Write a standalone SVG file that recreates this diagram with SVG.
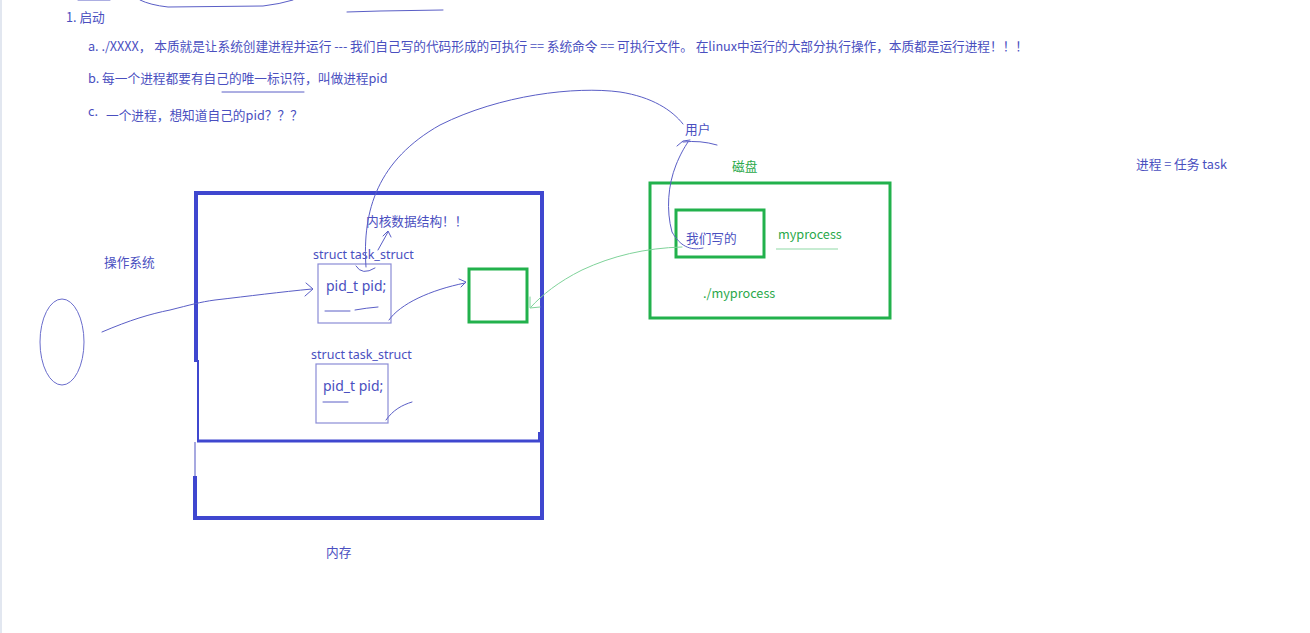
<svg xmlns="http://www.w3.org/2000/svg" width="1310" height="633" viewBox="0 0 1310 633">
<style>
  .t { font-family: "Noto Sans CJK SC", "Liberation Sans", sans-serif; fill: #4a4fbf; font-size: 12.7px; }
  .g { font-family: "Noto Sans CJK SC", "Liberation Sans", sans-serif; fill: #2aa84a; font-size: 12.7px; }
  .code { font-family: "Noto Sans", "Liberation Sans", sans-serif; fill: #4a4fbf; }
  .pen { fill: none; stroke: #5a5ec6; stroke-width: 1; stroke-linecap: round; stroke-linejoin: round; }
  .gpen { fill: none; stroke: #7fd39a; stroke-width: 1; stroke-linecap: round; }
  .mem { fill: none; stroke: #3f47cf; stroke-width: 4; }
  .grn { fill: none; stroke: #22b14c; stroke-width: 3; }
  .box { fill: none; stroke: #8a8cd6; stroke-width: 1.2; }
</style>
<rect width="1310" height="633" fill="#ffffff"/>
<line x1="1" y1="0" x2="1" y2="633" stroke="#e2e7f0" stroke-width="2"/>

<g id="notes">
  <text class="t" x="66" y="22">1. 启动</text>
  <text class="t" x="88" y="51" textLength="940" lengthAdjust="spacing">a. ./XXXX， 本质就是让系统创建进程并运行 --- 我们自己写的代码形成的可执行 == 系统命令 == 可执行文件。 在linux中运行的大部分执行操作，本质都是运行进程！！！</text>
  <text class="t" x="88" y="83">b. 每一个进程都要有自己的唯一标识符，叫做进程pid</text>
  <text class="t" x="88" y="116" font-size="11.5">c.</text>
  <text class="t" x="106" y="120">一个进程，想知道自己的pid？？？</text>
  <text class="t" x="1136" y="169">进程 = 任务 task</text>
</g>

<g id="memory">
  <path class="mem" d="M196,362 L196,193 L542,193 L542,518 L195,518 L195,476"/>
  <path d="M198,360 L198,440" stroke="#3f47cf" stroke-width="2" fill="none"/>
  <path d="M197,441 L540,441" stroke="#3f47cf" stroke-width="3" fill="none"/>
  <path d="M539,432 L539,441" stroke="#3f47cf" stroke-width="2" fill="none"/>
  <path d="M195,442 L195,476" stroke="#8a8cd6" stroke-width="1.5" fill="none"/>
  <text class="t" x="326" y="557">内存</text>
</g>

<g id="os">
  <ellipse cx="62" cy="342" rx="22" ry="43" fill="none" stroke="#6a6dcc" stroke-width="1"/>
  <text class="t" x="104" y="267">操作系统</text>
</g>

<g id="task1">
  <text class="code" x="313" y="259" font-size="12.5">struct task_struct</text>
  <rect class="box" x="318" y="264" width="73" height="59"/>
  <text class="code" x="326" y="291" font-size="14">pid_t pid;</text>
  <text class="t" x="366" y="226">内核数据结构！！</text>
</g>

<g id="task2">
  <text class="code" x="311" y="359" font-size="12.5">struct task_struct</text>
  <rect class="box" x="316" y="364" width="72" height="59"/>
  <text class="code" x="323" y="391" font-size="14">pid_t pid;</text>
</g>

<g id="memblock">
  <rect class="grn" x="469" y="269" width="58" height="53"/>
</g>

<g id="disk">
  <rect class="grn" x="650" y="183" width="240" height="135"/>
  <rect class="grn" x="676" y="210" width="88" height="47"/>
  <text class="g" x="732" y="171">磁盘</text>
  <text class="t" x="686" y="243">我们写的</text>
  <text class="g" x="778" y="239">myprocess</text>
  <text class="g" x="703" y="298">./myprocess</text>
  <line x1="776" y1="249" x2="838" y2="249" stroke="#b5e6c3" stroke-width="1.5"/>
</g>

<g id="user">
  <text class="t" x="685" y="134">用户</text>
</g>

<g id="connectors">
  <path class="pen" d="M78,0 L110,0"/>
  <path class="pen" d="M140,0 Q150,5 168,7 L263,6 Q280,4 293,0"/>
  <path class="pen" d="M347,12 L380,11 L443,10"/>
  <path class="pen" d="M222,92 L304,92"/>
  <path class="pen" d="M325,311 L350,311"/>
  <path class="pen" d="M355,310 Q366,308 378,307"/>
  <path class="pen" d="M323,402 L348,402"/>
  <path class="pen" d="M366,267 C362,210 378,160 440,125 C500,95 575,86 620,92 C652,97 672,110 683,124"/>
  <path class="pen" d="M356,266 Q362,276 375,268"/>
  <path class="pen" d="M378,250 L388,232 M383,236 L388,231 L391,237"/>
  <path class="pen" d="M102,332 C130,320 150,314 170,310 C190,305 200,302 215,300 C250,296 280,292 312,289"/>
  <path class="pen" d="M306,283 L313,289 L305,296"/>
  <path class="pen" d="M389,320 C400,304 430,290 465,283"/>
  <path class="pen" d="M459,279 L466,282 L461,287"/>
  <path class="pen" d="M386,420 C393,410 402,405 412,402"/>
  <path class="pen" d="M703,248 C690,251 680,246 672,232 C666,210 668,185 676,165 C680,155 684,148 688,142"/>
  <path class="pen" d="M677,146 L683,141 L690,140 M683,142 Q700,140 717,145"/>
  <path class="gpen" d="M682,247 C645,248 612,256 582,270 C558,282 542,295 531,307"/>
  <path class="gpen" d="M530,297 L530,308 L540,307"/>
</g>
</svg>
